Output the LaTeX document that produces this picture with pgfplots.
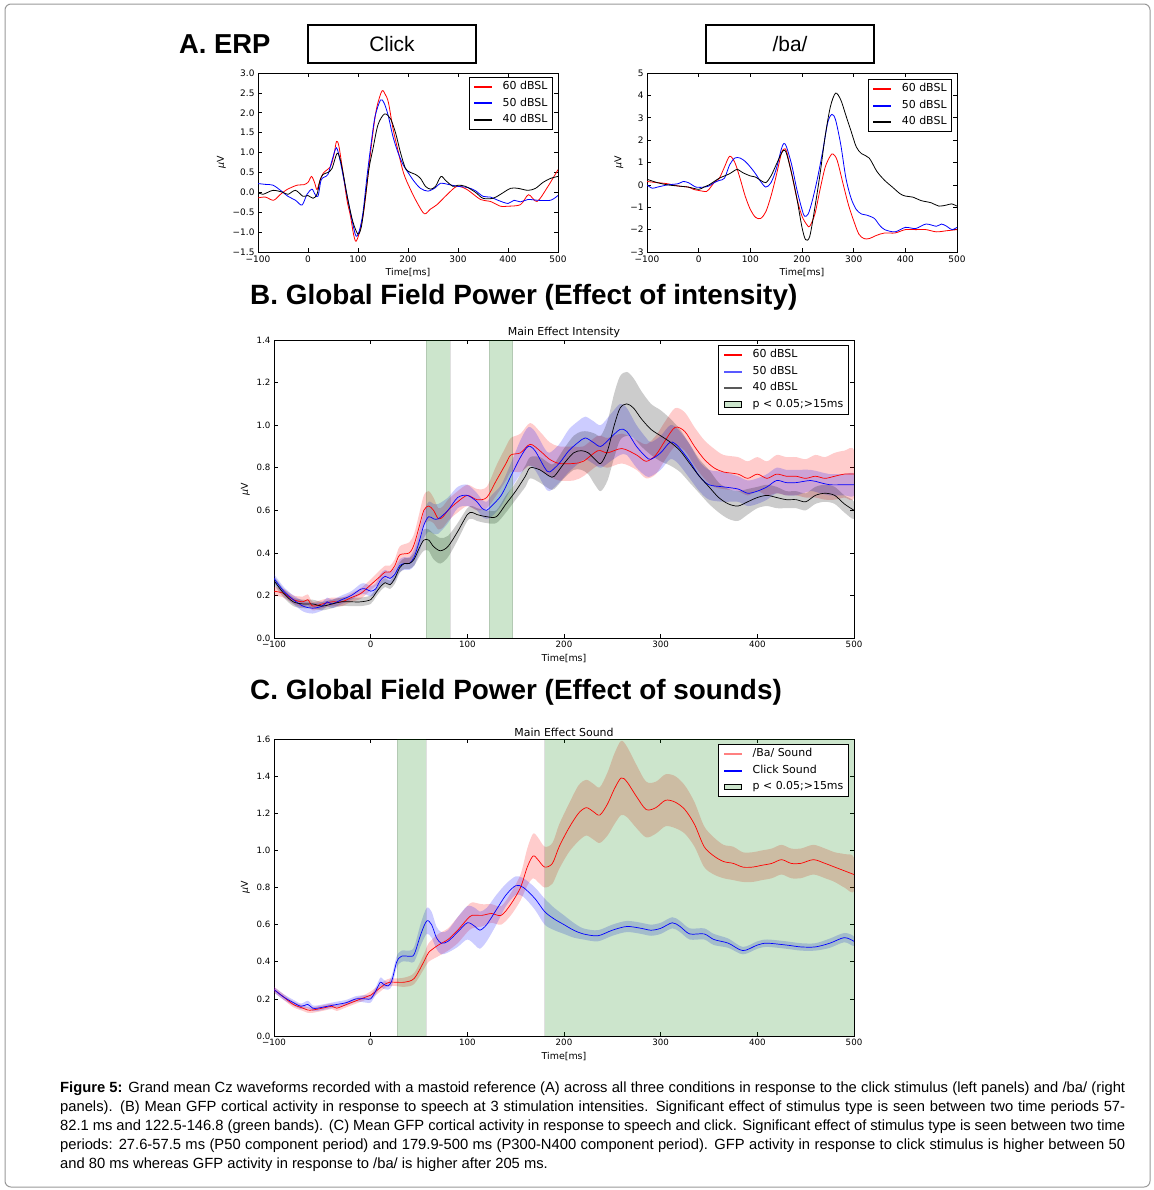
\documentclass[border=0pt]{standalone}
\usepackage{pgfplots}
\pgfplotsset{compat=1.18}
\usepackage{pgfplotstable}
\usepackage{fontspec}
\setmainfont{Liberation Sans}
\newfontfamily\dejavu{DejaVu Sans}
\definecolor{sig}{rgb}{0,0.5,0}
\definecolor{siglight}{rgb}{0.8,0.9,0.8}
\definecolor{lblue}{rgb}{0.35,0.35,1}
\definecolor{lgray}{rgb}{0.35,0.35,0.35}
\definecolor{lred}{rgb}{1,0.5,0.5}

% ---------- Panel A: Click ----------
\pgfplotstableread{
t y
-100 -0.14
-85 -0.12
-69 -0.2
-55 -0.05
-42 0.07
-22 0.18
-9 0.19
0 0.25
7 0.40
13 0.25
18 0.07
24 0.3
31 0.49
45 0.65
52 0.95
57 1.28
62 1.15
71 0.4
78 -0.2
85 -0.6
91 -1.05
96 -1.23
103 -1.0
111 -0.52
118 0.2
125 0.99
132 1.7
138 2.16
148 2.55
155 2.45
161 2.25
170 1.6
178 1.16
191 0.49
205 0.07
220 -0.3
233 -0.54
245 -0.42
258 -0.31
278 -0.06
298 0.15
318 0.07
345 -0.18
365 -0.23
385 -0.35
398 -0.35
425 -0.31
441 -0.06
458 -0.23
478 0.11
500 0.57
}\clickR
\pgfplotstableread{
t y
-100 0.22
-85 0.2
-70 0.18
-55 0.05
-40 -0.1
-25 -0.2
-12 -0.32
-2 -0.05
8 0.08
14 -0.05
20 -0.1
26 0.3
32 0.38
40 0.45
48 0.8
57 1.12
65 0.75
72 0.3
80 -0.2
88 -0.7
96 -1.1
103 -0.95
110 -0.5
118 0.4
126 1.2
134 1.9
145 2.32
152 2.25
160 1.95
170 1.4
180 1.0
190 0.7
200 0.5
212 0.28
225 0.1
240 0.03
255 0.12
265 0.23
280 0.2
300 0.15
320 0.12
335 0.04
350 -0.1
365 -0.12
380 -0.2
400 -0.28
412 -0.2
425 -0.24
440 -0.18
460 -0.2
485 -0.2
500 -0.08
}\clickB
\pgfplotstableread{
t y
-100 0.0
-90 -0.05
-70 0.05
-50 0.0
-40 -0.05
-25 0.05
-10 -0.1
0 -0.08
10 -0.15
18 -0.05
24 0.3
30 0.45
40 0.5
48 0.6
58 0.98
64 0.85
70 0.5
80 -0.2
90 -0.75
100 -1.05
107 -0.85
115 -0.1
122 0.6
130 1.1
140 1.7
153 1.97
165 1.85
175 1.5
185 1.0
195 0.6
205 0.5
215 0.45
225 0.35
235 0.15
245 0.08
255 0.15
266 0.4
275 0.3
290 0.15
300 0.18
315 0.15
335 0.0
350 -0.15
370 -0.15
385 -0.05
405 0.1
420 0.1
440 0.05
455 0.1
470 0.25
485 0.35
500 0.4
}\clickK

% ---------- Panel A: /ba/ ----------
\pgfplotstableread{
t y
-100 0.15
-80 0.1
-60 0.05
-40 -0.05
-20 -0.1
-10 -0.2
0 -0.25
15 -0.3
20 -0.2
30 0.1
40 0.3
50 0.8
60 1.28
70 1.0
80 0.3
90 -0.5
100 -1.1
110 -1.45
120 -1.5
130 -1.2
140 -0.5
150 0.4
160 1.4
165 1.6
170 1.5
180 0.5
190 -0.6
200 -1.4
210 -1.8
215 -1.85
225 -1.3
235 -0.2
245 0.8
255 1.3
260 1.38
268 1.1
280 0.0
290 -0.9
300 -1.6
310 -2.2
320 -2.4
330 -2.4
345 -2.25
360 -2.15
380 -2.15
400 -2.0
420 -2.0
440 -2.0
460 -2.1
480 -2.05
500 -2.0
}\baR
\pgfplotstableread{
t y
-100 0.0
-90 -0.15
-80 -0.1
-60 0.0
-40 0.05
-30 0.15
-20 0.1
-5 -0.1
10 -0.1
20 -0.05
30 0.1
40 0.2
50 0.3
60 0.9
70 1.2
80 1.2
90 1.05
100 0.8
110 0.5
120 0.15
130 -0.1
140 0.1
150 0.7
160 1.6
165 1.85
170 1.7
180 0.9
190 -0.2
200 -1.1
205 -1.4
212 -1.3
220 -0.7
230 0.3
240 1.5
250 2.8
258 3.15
265 2.9
275 1.8
285 0.3
295 -0.6
305 -1.1
315 -1.3
325 -1.35
340 -1.5
350 -1.8
360 -2.0
380 -2.1
400 -1.9
420 -1.95
440 -1.75
460 -1.85
470 -1.75
480 -1.85
490 -2.0
500 -1.9
}\baB
\pgfplotstableread{
t y
-100 0.25
-80 0.1
-60 0.0
-40 -0.05
-20 -0.1
0 -0.2
10 -0.1
20 0.0
30 0.15
40 0.3
50 0.4
60 0.5
70 0.65
75 0.7
85 0.55
100 0.4
110 0.35
120 0.2
130 0.1
140 0.4
150 0.9
160 1.4
165 1.55
170 1.4
180 0.5
190 -0.6
200 -1.9
207 -2.45
215 -2.3
225 -1.0
235 0.5
245 2.2
255 3.5
265 4.1
275 3.8
285 3.1
295 2.4
305 1.7
315 1.4
330 1.2
345 0.6
360 0.2
375 -0.1
390 -0.4
400 -0.5
415 -0.55
430 -0.7
450 -0.8
465 -0.95
480 -0.9
490 -0.85
500 -0.95
}\baK

% ---------- Panel B ----------
\pgfplotstableread{
t y e
-100 0.22 0.02
-90 0.21 0.02
-80 0.18 0.02
-70 0.17 0.025
-65 0.18 0.025
-60 0.15 0.02
-50 0.16 0.02
-40 0.17 0.02
-30 0.17 0.02
-20 0.19 0.02
-10 0.21 0.025
0 0.25 0.025
10 0.29 0.03
15 0.31 0.03
20 0.31 0.03
25 0.34 0.03
30 0.39 0.04
40 0.40 0.05
45 0.44 0.05
50 0.52 0.06
55 0.60 0.07
60 0.62 0.07
65 0.60 0.06
70 0.56 0.05
75 0.57 0.05
80 0.60 0.05
90 0.64 0.05
100 0.67 0.05
110 0.65 0.05
120 0.66 0.05
130 0.74 0.07
140 0.82 0.08
145 0.86 0.08
155 0.87 0.09
165 0.91 0.1
175 0.88 0.09
185 0.84 0.08
195 0.82 0.08
210 0.82 0.08
220 0.83 0.07
235 0.88 0.07
245 0.87 0.07
260 0.89 0.07
275 0.86 0.07
285 0.83 0.08
295 0.86 0.09
305 0.93 0.09
315 0.99 0.09
325 0.97 0.09
335 0.90 0.09
345 0.84 0.09
355 0.80 0.09
365 0.78 0.08
380 0.77 0.08
390 0.75 0.08
400 0.77 0.08
410 0.75 0.08
420 0.77 0.09
430 0.76 0.09
440 0.76 0.09
450 0.75 0.09
460 0.76 0.1
470 0.75 0.1
480 0.76 0.11
490 0.77 0.11
500 0.77 0.11
}\gfpR
\pgfplotstableread{
t y e
-100 0.28 0.02
-90 0.22 0.02
-80 0.18 0.02
-70 0.15 0.025
-60 0.14 0.025
-50 0.15 0.02
-45 0.17 0.02
-40 0.16 0.02
-30 0.18 0.02
-20 0.20 0.02
-10 0.23 0.025
-5 0.23 0.025
0 0.22 0.025
5 0.23 0.025
10 0.27 0.03
15 0.29 0.03
20 0.28 0.03
25 0.30 0.03
30 0.34 0.03
35 0.35 0.03
40 0.35 0.03
45 0.38 0.04
50 0.45 0.05
55 0.53 0.06
60 0.57 0.07
65 0.56 0.07
70 0.56 0.07
80 0.60 0.06
90 0.66 0.05
100 0.67 0.05
110 0.64 0.04
115 0.61 0.04
120 0.60 0.04
125 0.62 0.05
135 0.67 0.05
145 0.76 0.06
155 0.85 0.08
163 0.90 0.09
170 0.88 0.09
180 0.80 0.09
185 0.78 0.09
195 0.82 0.09
205 0.88 0.1
215 0.92 0.1
222 0.94 0.1
230 0.92 0.1
238 0.90 0.1
248 0.94 0.11
258 0.98 0.12
265 0.97 0.11
275 0.90 0.1
285 0.85 0.09
290 0.84 0.08
300 0.87 0.08
310 0.92 0.08
318 0.90 0.08
330 0.83 0.08
340 0.76 0.07
350 0.72 0.07
365 0.71 0.07
380 0.70 0.06
390 0.68 0.06
400 0.69 0.06
410 0.71 0.06
420 0.74 0.06
430 0.73 0.06
440 0.73 0.06
455 0.74 0.05
465 0.73 0.05
475 0.72 0.05
490 0.72 0.05
500 0.72 0.05
}\gfpB
\pgfplotstableread{
t y e
-100 0.27 0.02
-90 0.21 0.02
-80 0.17 0.02
-70 0.16 0.02
-60 0.16 0.02
-50 0.15 0.02
-40 0.16 0.02
-30 0.17 0.02
-20 0.17 0.02
-10 0.17 0.02
0 0.18 0.02
5 0.21 0.02
10 0.24 0.02
15 0.26 0.02
20 0.25 0.02
25 0.28 0.025
30 0.33 0.025
35 0.35 0.025
40 0.35 0.025
45 0.37 0.03
50 0.42 0.04
55 0.46 0.05
60 0.46 0.05
65 0.43 0.06
72 0.41 0.06
80 0.43 0.05
90 0.50 0.04
100 0.58 0.03
105 0.59 0.03
110 0.58 0.03
120 0.57 0.03
130 0.57 0.03
140 0.63 0.04
150 0.69 0.04
160 0.76 0.05
165 0.80 0.05
175 0.79 0.06
185 0.76 0.06
190 0.76 0.06
200 0.82 0.07
210 0.87 0.08
218 0.88 0.09
225 0.87 0.1
232 0.84 0.12
238 0.82 0.13
245 0.88 0.14
252 1.00 0.15
258 1.08 0.15
265 1.10 0.15
272 1.08 0.14
280 1.03 0.13
290 0.98 0.12
300 0.95 0.12
310 0.92 0.11
320 0.88 0.1
330 0.82 0.09
340 0.76 0.08
350 0.71 0.08
360 0.66 0.07
370 0.63 0.07
380 0.62 0.07
390 0.64 0.06
400 0.66 0.05
410 0.67 0.05
420 0.66 0.05
430 0.65 0.04
440 0.65 0.04
450 0.64 0.04
460 0.67 0.04
470 0.68 0.04
480 0.67 0.04
490 0.63 0.04
500 0.60 0.04
}\gfpK

% ---------- Panel C ----------
\pgfplotstableread{
t y e
-100 0.25 0.015
-90 0.21 0.015
-80 0.17 0.015
-70 0.15 0.015
-65 0.14 0.015
-60 0.14 0.015
-50 0.15 0.015
-40 0.16 0.015
-35 0.15 0.015
-25 0.17 0.015
-15 0.19 0.015
-5 0.21 0.015
0 0.22 0.02
10 0.26 0.02
15 0.28 0.02
20 0.29 0.02
25 0.29 0.02
35 0.29 0.025
45 0.31 0.03
55 0.40 0.04
60 0.45 0.05
70 0.49 0.06
80 0.52 0.06
90 0.57 0.07
100 0.63 0.07
105 0.65 0.07
115 0.65 0.06
125 0.66 0.05
135 0.65 0.05
145 0.71 0.06
155 0.80 0.07
162 0.91 0.1
168 0.97 0.12
173 0.95 0.12
180 0.91 0.11
188 0.93 0.11
195 1.02 0.12
205 1.12 0.13
215 1.20 0.15
223 1.23 0.15
230 1.21 0.15
237 1.19 0.15
245 1.25 0.17
252 1.33 0.19
259 1.39 0.2
265 1.37 0.19
275 1.29 0.17
285 1.22 0.15
295 1.23 0.14
305 1.27 0.14
315 1.26 0.14
325 1.22 0.13
335 1.14 0.12
345 1.02 0.11
355 0.97 0.1
365 0.94 0.09
375 0.93 0.09
385 0.91 0.08
395 0.91 0.08
405 0.92 0.08
415 0.93 0.08
425 0.95 0.08
435 0.93 0.08
445 0.93 0.08
458 0.95 0.08
470 0.93 0.08
480 0.91 0.08
490 0.89 0.09
500 0.87 0.09
}\sndR
\pgfplotstableread{
t y e
-100 0.25 0.015
-90 0.21 0.015
-80 0.18 0.015
-72 0.16 0.015
-65 0.17 0.02
-60 0.15 0.015
-55 0.15 0.015
-45 0.16 0.015
-35 0.17 0.015
-25 0.18 0.015
-15 0.20 0.015
-5 0.20 0.02
0 0.20 0.02
5 0.24 0.02
10 0.29 0.025
13 0.28 0.025
18 0.27 0.02
22 0.30 0.03
27 0.40 0.03
32 0.43 0.03
40 0.43 0.03
45 0.44 0.04
52 0.55 0.06
58 0.62 0.07
63 0.60 0.07
68 0.53 0.06
73 0.50 0.06
80 0.51 0.06
90 0.56 0.08
100 0.61 0.09
108 0.59 0.1
113 0.57 0.1
120 0.60 0.09
130 0.68 0.08
140 0.76 0.06
150 0.81 0.05
158 0.80 0.05
170 0.74 0.06
180 0.67 0.07
190 0.63 0.06
200 0.60 0.05
210 0.57 0.04
220 0.55 0.03
235 0.54 0.03
250 0.57 0.03
265 0.59 0.03
280 0.58 0.03
290 0.57 0.03
300 0.58 0.03
312 0.61 0.03
320 0.59 0.03
330 0.55 0.03
345 0.55 0.03
355 0.52 0.03
370 0.50 0.025
385 0.46 0.02
400 0.49 0.02
410 0.50 0.02
430 0.49 0.02
445 0.48 0.02
460 0.48 0.02
475 0.50 0.025
490 0.53 0.025
500 0.51 0.025
}\sndB

% band polygons: upper edge forward, lower edge backward
\newcommand{\mkband}[2]{%
  \pgfplotstablesort[sort key=t, sort cmp={float <}]{#2}{#1}%
  \pgfplotstablesort[sort key=t, sort cmp={float >}]{\tmprev}{#1}%
  \pgfplotstablecreatecol[expr={\thisrow{y}+\thisrow{e}}]{v}{#2}%
  \pgfplotstablecreatecol[expr={\thisrow{y}-\thisrow{e}}]{v}{\tmprev}%
  \pgfplotstablevertcat{#2}{\tmprev}%
}
\mkband{\gfpR}{\gfpRband}
\mkband{\gfpB}{\gfpBband}
\mkband{\gfpK}{\gfpKband}
\mkband{\sndR}{\sndRband}
\mkband{\sndB}{\sndBband}

% legend line sample drawn as a thin filled bar
\newcommand{\legline}[2]{%
  \addlegendimage{legend image code/.code={\fill[#1] (0bp,-#2) rectangle (17bp,#2);}}%
}

\newcommand{\tickfontA}{\dejavu\fontsize{9}{10}\selectfont}
\newcommand{\tickfont}{\dejavu\fontsize{8.7}{10}\selectfont}
\newcommand{\legfont}{\dejavu\fontsize{11}{13}\selectfont}

\pgfplotsset{
  mpl/.style={
    scale only axis,
    axis line style={line width=0.8bp},
    every tick/.style={black, line width=0.6bp},
    major tick length=4bp,
    tick align=inside,
    tick pos=both,
    ticklabel style={font=\tickfont},
    label style={font=\dejavu\fontsize{9.5}{11}\selectfont},
    xmin=-100, xmax=500,
    xtick={-100,0,100,200,300,400,500},
    xticklabels={−100,0,100,200,300,400,500},
    xlabel={Time[ms]},
    ylabel={{\itshape μ}V},
    xlabel style={yshift=1bp},
    title style={font=\dejavu\fontsize{11}{13}\selectfont, at={(0.5,1)}, anchor=south, yshift=-7bp},
    legend cell align=left,
    legend style={draw=black, line width=0.8bp, font=\legfont, anchor=north east,
      inner xsep=5bp, inner ysep=4bp, row sep=5.5bp,
      nodes={inner sep=0pt, text height=8.5bp, text depth=2.5bp},
      /tikz/every odd column/.append style={column sep=11bp}},
  },
}

\begin{document}
\begin{tikzpicture}
\fill[white] (0,0) rectangle (1154bp,-1190bp);
\draw[rounded corners=6bp, draw=black!40, line width=1bp] (5bp,-4bp) rectangle (1150bp,-1187bp);

% headings
\node[anchor=base west, inner sep=0, font=\bfseries\fontsize{27.5}{30}\selectfont] at (179bp,-53bp) {A. ERP};
\draw[line width=1.2bp] (308bp,-25bp) rectangle (476bp,-63bp);
\node[font=\fontsize{21}{24}\selectfont] at (392bp,-44bp) {Click};
\draw[line width=1.2bp] (706bp,-25bp) rectangle (874bp,-63bp);
\node[font=\fontsize{21}{24}\selectfont] at (790bp,-44bp) {/ba/};
\node[anchor=base west, inner sep=0, font=\bfseries\fontsize{28}{30}\selectfont] at (250bp,-304bp) {B. Global Field Power (Effect of intensity)};
\node[anchor=base west, inner sep=0, font=\bfseries\fontsize{28}{30}\selectfont] at (250bp,-699bp) {C. Global Field Power (Effect of sounds)};

% ---- A left ----
\begin{axis}[mpl, at={(258bp,-73bp)}, anchor=north west, width=300bp, height=179bp,
  ticklabel style={font=\tickfontA},
  ymin=-1.5, ymax=3.0, ytick={-1.5,-1,...,3}, yticklabels={−1.5,−1.0,−0.5,0.0,0.5,1.0,1.5,2.0,2.5,3.0},
  legend style={at={(0.983,0.978)}}]
\legline{red}{0.45bp}\addlegendentry{60 dBSL}
\legline{blue}{0.45bp}\addlegendentry{50 dBSL}
\legline{black}{0.45bp}\addlegendentry{40 dBSL}
\addplot[red, line width=0.8bp, smooth, forget plot] table[x=t,y=y] {\clickR};
\addplot[blue, line width=0.8bp, smooth, forget plot] table[x=t,y=y] {\clickB};
\addplot[black, line width=0.8bp, smooth, forget plot] table[x=t,y=y] {\clickK};
\end{axis}

% ---- A right ----
\begin{axis}[mpl, at={(647bp,-73bp)}, anchor=north west, width=310bp, height=179bp,
  ticklabel style={font=\tickfontA},
  ymin=-3, ymax=5, ytick={-3,...,5}, yticklabels={−3,−2,−1,0,1,2,3,4,5},
  legend style={at={(0.984,0.966)}}]
\legline{red}{0.45bp}\addlegendentry{60 dBSL}
\legline{blue}{0.45bp}\addlegendentry{50 dBSL}
\legline{black}{0.45bp}\addlegendentry{40 dBSL}
\addplot[red, line width=0.8bp, smooth, forget plot] table[x=t,y=y] {\baR};
\addplot[blue, line width=0.8bp, smooth, forget plot] table[x=t,y=y] {\baB};
\addplot[black, line width=0.8bp, smooth, forget plot] table[x=t,y=y] {\baK};
\end{axis}

% ---- B ----
\begin{axis}[mpl, at={(274bp,-340bp)}, anchor=north west, width=580bp, height=298bp,
  ymin=0, ymax=1.4, ytick={0,0.2,...,1.4}, yticklabels={0.0,0.2,0.4,0.6,0.8,1.0,1.2,1.4},
  title={Main Effect Intensity},
  legend style={at={(0.991,0.983)}}]
\legline{red}{0.45bp}\addlegendentry{60 dBSL}
\legline{lblue}{0.45bp}\addlegendentry{50 dBSL}
\legline{lgray}{0.35bp}\addlegendentry{40 dBSL}
\addlegendimage{area legend, fill=siglight, draw=none}\addlegendentry{p < 0.05;>15ms}
\addplot[fill=red, fill opacity=0.2, draw=none, smooth, tension=0.5, forget plot] table[x=t,y=v] {\gfpRband};
\addplot[fill=blue, fill opacity=0.2, draw=none, smooth, tension=0.5, forget plot] table[x=t,y=v] {\gfpBband};
\addplot[fill=black, fill opacity=0.2, draw=none, smooth, tension=0.5, forget plot] table[x=t,y=v] {\gfpKband};
\addplot[fill=sig, fill opacity=0.2, draw=black, draw opacity=0.12, forget plot] coordinates {(57,1.4) (82.1,1.4)} \closedcycle;
\addplot[fill=sig, fill opacity=0.2, draw=black, draw opacity=0.12, forget plot] coordinates {(122.5,1.4) (146.8,1.4)} \closedcycle;
\addplot[red, line width=0.7bp, smooth, forget plot] table[x=t,y=y] {\gfpR};
\addplot[blue, line width=0.7bp, smooth, forget plot] table[x=t,y=y] {\gfpB};
\addplot[black, line width=0.7bp, smooth, forget plot] table[x=t,y=y] {\gfpK};
\end{axis}

% ---- C ----
\begin{axis}[mpl, at={(274bp,-739bp)}, anchor=north west, width=580bp, height=297bp,
  ymin=0, ymax=1.6, ytick={0,0.2,...,1.6}, yticklabels={0.0,0.2,0.4,0.6,0.8,1.0,1.2,1.4,1.6},
  title={Main Effect Sound},
  legend style={at={(0.991,0.983)}}]
\legline{lred}{0.45bp}\addlegendentry{/Ba/ Sound}
\legline{blue}{0.45bp}\addlegendentry{Click Sound}
\addlegendimage{area legend, fill=siglight, draw=none}\addlegendentry{p < 0.05;>15ms}
\addplot[fill=red, fill opacity=0.2, draw=none, smooth, tension=0.5, forget plot] table[x=t,y=v] {\sndRband};
\addplot[fill=blue, fill opacity=0.2, draw=none, smooth, tension=0.5, forget plot] table[x=t,y=v] {\sndBband};
\addplot[fill=sig, fill opacity=0.2, draw=black, draw opacity=0.12, forget plot] coordinates {(27.6,1.6) (57.5,1.6)} \closedcycle;
\addplot[fill=sig, fill opacity=0.2, draw=black, draw opacity=0.12, forget plot] coordinates {(179.9,1.6) (500,1.6)} \closedcycle;
\addplot[red, line width=0.7bp, smooth, forget plot] table[x=t,y=y] {\sndR};
\addplot[blue, line width=0.7bp, smooth, forget plot] table[x=t,y=y] {\sndB};
\end{axis}

% caption
\node[anchor=north west, inner sep=0, text width=1065bp, align=justify, font=\fontsize{14.8}{19}\selectfont] at (60bp,-1082bp)
{\textbf{Figure 5:} Grand mean Cz waveforms recorded with a mastoid reference (A) across all three conditions in response to the click stimulus (left panels) and /ba/ (right\linebreak panels). (B) Mean GFP cortical activity in response to speech at 3 stimulation intensities. Significant effect of stimulus type is seen between two time periods 57-\linebreak 82.1 ms and 122.5-146.8 (green bands). (C) Mean GFP cortical activity in response to speech and click. Significant effect of stimulus type is seen between two time\linebreak periods: 27.6-57.5 ms (P50 component period) and 179.9-500 ms (P300-N400 component period). GFP activity in response to click stimulus is higher between 50\linebreak and 80 ms whereas GFP activity in response to /ba/ is higher after 205 ms.};
\end{tikzpicture}
\end{document}
